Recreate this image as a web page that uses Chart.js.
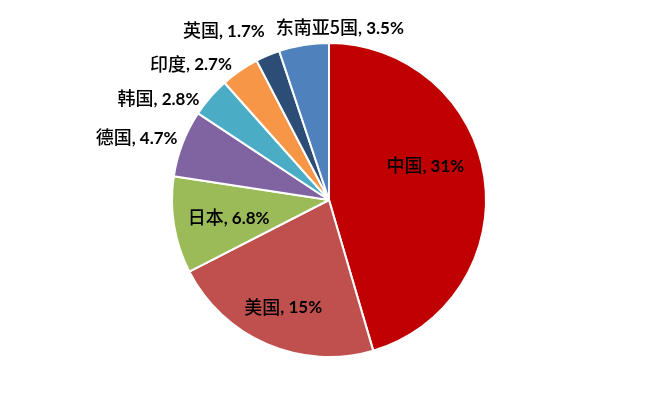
<!DOCTYPE html>
<html>
<head>
<meta charset="utf-8">
<script src="https://cdn.jsdelivr.net/npm/chart.js@4"></script>
<style>
  html, body { margin: 0; padding: 0; background: #fff; }
  #wrap { width: 660px; height: 401px; }
</style>
</head>
<body>
<div id="wrap"><canvas id="chart"></canvas></div>
<script>
const countries = ["中国", "美国", "日本", "德国", "韩国", "印度", "英国", "东南亚5国"];
const shares = [31, 15, 6.8, 4.7, 2.8, 2.7, 1.7, 3.5];
const shareLabels = ["31%", "15%", "6.8%", "4.7%", "2.8%", "2.7%", "1.7%", "3.5%"];
const colors = ["#C00000", "#C0504D", "#9BBB59", "#8064A2", "#4BACC6", "#F79646", "#2C4D75", "#4F81BD"];

// where each label sits: inside (fraction of radius) or outside (px nudge from the arc edge)
const labelPlace = [
  { inside: 0.62, dx: 0, dy: -21 },
  { inside: 0.74, dx: 0, dy: 0 },
  { inside: 0.68, dx: 5, dy: 0 },
  { dx: -5, dy: -6, align: "right" },
  { dx: -11, dy: 1, align: "right" },
  { dx: -8, dy: -7, align: "right" },
  { dx: -3, dy: -25, align: "right" },
  { dx: 36, dy: -18, align: "center" },
];

const cjkFont = "500 18px 'Noto Sans CJK SC', sans-serif";
const numFont = "bold 17px Lato, sans-serif";

const labelPlugin = {
  id: "pieLabels",
  afterDatasetsDraw(chart) {
    const ctx = chart.ctx;
    const meta = chart.getDatasetMeta(0);
    ctx.save();
    ctx.fillStyle = "#000";
    ctx.textBaseline = "middle";
    ctx.textAlign = "left";
    meta.data.forEach((arc, i) => {
      const p = labelPlace[i];
      const mid = (arc.startAngle + arc.endAngle) / 2;
      const head = countries[i];
      const tail = ", " + shareLabels[i];
      ctx.font = cjkFont;
      const w1 = ctx.measureText(head).width;
      ctx.font = numFont;
      const w2 = ctx.measureText(tail).width;
      const w = w1 + w2;
      const k = p.inside || 1;
      let x = arc.x + Math.cos(mid) * arc.outerRadius * k + p.dx;
      const y = arc.y + Math.sin(mid) * arc.outerRadius * k + p.dy;
      const align = p.inside ? "center" : p.align;
      if (align === "center") x -= w / 2;
      else if (align === "right") x -= w;
      ctx.font = cjkFont;
      ctx.fillText(head, x, y);
      ctx.font = numFont;
      ctx.fillText(tail, x + w1, y + 1);
    });
    ctx.restore();
  },
};

new Chart(document.getElementById("chart"), {
  type: "pie",
  data: {
    labels: countries,
    datasets: [
      {
        data: shares,
        backgroundColor: colors,
        borderColor: "#fff",
        borderWidth: 2,
      },
    ],
  },
  options: {
    responsive: true,
    maintainAspectRatio: false,
    animation: false,
    layout: { padding: { top: 42, bottom: 43, left: 0, right: 2 } },
    plugins: {
      legend: { display: false },
      tooltip: { enabled: false },
    },
  },
  plugins: [labelPlugin],
});
</script>
</body>
</html>
